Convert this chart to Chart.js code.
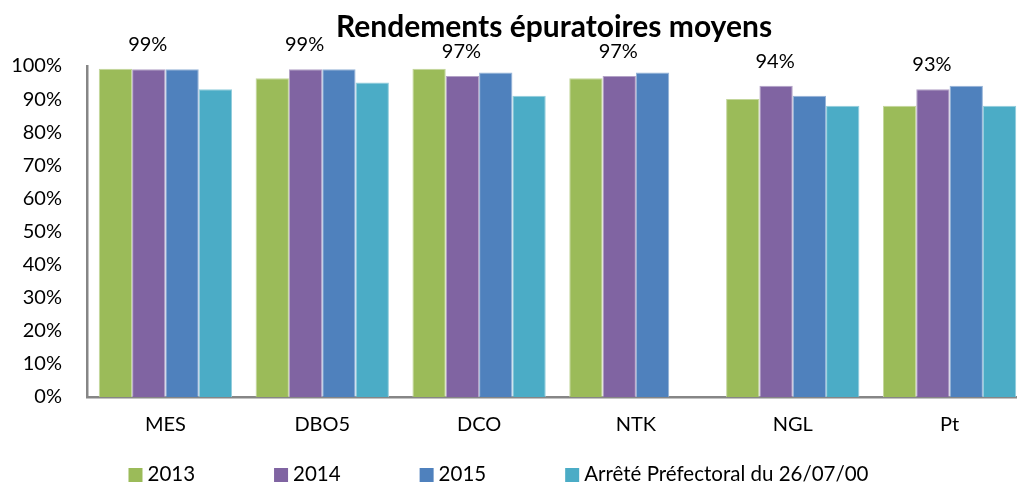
<!DOCTYPE html>
<html>
<head>
<meta charset="utf-8">
<script src="https://cdn.jsdelivr.net/npm/chart.js@4.4.1/dist/chart.umd.min.js"></script>
<style>
html,body{margin:0;padding:0;background:#fff;overflow:hidden;}
#wrap{width:1030px;height:484px;}
</style>
</head>
<body>
<div id="wrap"><canvas id="c" width="1030" height="484"></canvas></div>
<script>
const categories = ['MES', 'DBO5', 'DCO', 'NTK', 'NGL', 'Pt'];
const s2013 = [99.2, 96.3, 99.2, 96.3, 90, 88];
const s2014 = [99, 99, 97, 97, 94, 93];
const s2015 = [99, 99, 98, 98, 91, 94];
const sArrete = [93, 95, 91, null, 88, 88];
const seriesNames = ['2013', '2014', '2015', 'Arrêté Préfectoral du 26/07/00'];
const yTicks = [0, 10, 20, 30, 40, 50, 60, 70, 80, 90, 100];
const titleText = 'Rendements épuratoires moyens';

const FONT = 'Lato, "Open Sans", sans-serif';

const titlePlugin = {
  id: 'customTitle',
  afterDraw(chart) {
    const ctx = chart.ctx;
    const a = chart.chartArea;
    ctx.save();
    ctx.font = 'bold 30px ' + FONT;
    ctx.fillStyle = '#000';
    ctx.textAlign = 'center';
    ctx.textBaseline = 'alphabetic';
    ctx.fillText(titleText, (a.left + a.right) / 2 - 3.5, 37);
    ctx.restore();
  }
};

const labelPlugin = {
  id: 'valueLabels',
  afterDatasetsDraw(chart) {
    const ctx = chart.ctx;
    const meta = chart.getDatasetMeta(1);
    ctx.save();
    ctx.font = '20px ' + FONT;
    ctx.fillStyle = '#000';
    ctx.textAlign = 'center';
    ctx.textBaseline = 'alphabetic';
    meta.data.forEach((bar, i) => {
      const v = s2014[i];
      if (v == null) return;
      ctx.fillText(Math.round(v) + '%', bar.x - 1, bar.y - 18);
    });
    ctx.restore();
  }
};

const legendPlugin = {
  id: 'customLegend',
  afterDraw(chart) {
    const ctx = chart.ctx;
    const ds = chart.data.datasets;
    const boxW = 14, boxH = 14, textGap = 5, itemGap = 79, centerX = 498.5, cy = 475;
    ctx.save();
    ctx.font = '20.5px ' + FONT;
    ctx.textBaseline = 'middle';
    ctx.textAlign = 'left';
    const widths = ds.map(d => ctx.measureText(d.label).width);
    let total = 0;
    widths.forEach((w, i) => { total += boxW + textGap + w + (i < widths.length - 1 ? itemGap : 0); });
    let x = centerX - total / 2;
    ds.forEach((d, i) => {
      ctx.fillStyle = d.backgroundColor;
      ctx.fillRect(x, cy - boxH / 2, boxW, boxH);
      ctx.fillStyle = '#000';
      ctx.fillText(d.label, x + boxW + textGap, cy - 1);
      x += boxW + textGap + widths[i] + itemGap;
    });
    ctx.restore();
  }
};

const colors = ['#9BBB59', '#8064A2', '#4F81BD', '#4BACC6'];
const borders = ['#C3D69B', '#B3A2C7', '#95B3D7', '#92CDDC'];
const dataSets = [s2013, s2014, s2015, sArrete];

new Chart(document.getElementById('c'), {
  type: 'bar',
  data: {
    labels: categories,
    datasets: dataSets.map((d, i) => ({
      label: seriesNames[i],
      data: d,
      backgroundColor: colors[i],
      borderColor: borders[i],
      borderWidth: 1,
      categoryPercentage: 0.85,
      barPercentage: 1.0
    }))
  },
  options: {
    responsive: false,
    animation: false,
    layout: { padding: { top: 66, left: 0, right: 2, bottom: 47 } },
    plugins: {
      title: { display: false },
      tooltip: { enabled: false },
      legend: { display: false }
    },
    scales: {
      x: {
        afterFit(scale) { scale.height = 40; },
        grid: { display: false, drawTicks: false },
        border: { display: true, color: '#868686', width: 2.5 },
        ticks: { font: { family: FONT, size: 20 }, color: '#000', padding: 16 }
      },
      y: {
        min: 0,
        max: 100,
        afterFit(scale) { scale.width = 87; },
        afterBuildTicks(scale) { scale.ticks = yTicks.map(v => ({ value: v })); },
        grid: { display: false, drawTicks: false },
        border: { display: true, color: '#868686', width: 2.5 },
        ticks: {
          font: { family: FONT, size: 20 },
          color: '#000',
          padding: 25,
          callback: v => v + '%'
        }
      }
    }
  },
  plugins: [titlePlugin, labelPlugin, legendPlugin]
});
</script>
</body>
</html>
